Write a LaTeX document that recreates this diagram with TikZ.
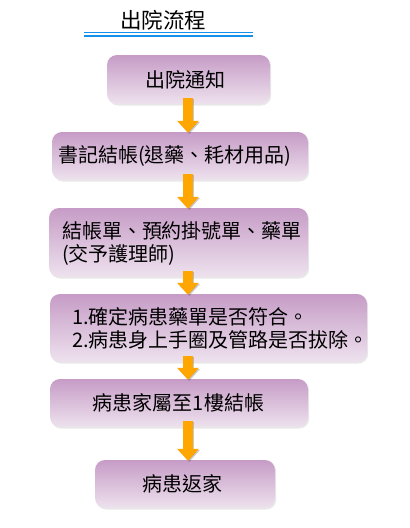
\documentclass[tikz,border=0pt]{standalone}
\usepackage{fontspec}
\newfontfamily\cjk{Noto Sans CJK TC}
\usetikzlibrary{arrows.meta,shadows}
\definecolor{boxtop}{RGB}{198,156,198}
\definecolor{boxbot}{RGB}{238,226,238}
\definecolor{arroworange}{RGB}{255,166,0}
\definecolor{titleblue}{RGB}{20,145,235}
\tikzset{
  flowbox/.style={rounded corners=10pt, top color=boxtop, bottom color=boxbot,
    draw=none, inner sep=0pt,
    drop shadow={shadow xshift=1.2pt, shadow yshift=-1.5pt, opacity=0.18}},
  flowtext/.style={inner sep=0pt, align=left, text=black,
    font=\cjk\fontsize{20}{23}\selectfont},
  flowarrow/.style={line width=10pt, draw=arroworange,
    -{Triangle[width=21pt,length=12pt]}, shorten <=-6pt, shorten >=-1pt},
  arrowshadow/.style={flowarrow, draw=black, opacity=0.2,
    transform canvas={xshift=1.2pt,yshift=-1.2pt}},
  titleline/.style={draw=titleblue, line width=1.1pt}
}
\begin{document}
\begin{tikzpicture}[x=1pt,y=-1pt]
\useasboundingbox[fill=white] (0,0) rectangle (410,528);

% title
\node[inner sep=0pt, font=\cjk\fontsize{21.5}{24}\selectfont] (title) at (163,20) {出院流程};
\draw[titleline] (84,32.5) -- (253,32.5);
\draw[titleline] (84,36) -- (253,36);

% boxes
\node[flowbox, minimum width=163pt, minimum height=49pt] (b1) at (188.5,79.5) {};
\node[flowbox, minimum width=256pt, minimum height=48pt] (b2) at (180,156) {};
\node[flowbox, minimum width=259pt, minimum height=69pt] (b3) at (178.5,242.5) {};
\node[flowbox, minimum width=317pt, minimum height=68pt] (b4) at (208.5,328) {};
\node[flowbox, minimum width=258pt, minimum height=48pt] (b5) at (179,403) {};
\node[flowbox, minimum width=180pt, minimum height=48pt] (b6) at (185,484) {};

% texts
\node[flowtext] (t1) at (185,79.5) {出院通知};
\node[flowtext, anchor=west] (t2) at ([xshift=6pt]b2.west) {書記結帳(退藥、耗材用品)};
\node[flowtext, anchor=west] (t3) at ([xshift=13pt,yshift=-1pt]b3.west) {結帳單、預約掛號單、藥單\\(交予護理師)};
\node[flowtext, anchor=west] (t4) at ([xshift=22pt]b4.west) {1.確定病患藥單是否符合。\\2.病患身上手圈及管路是否拔除。};
\node[flowtext] (t5) at (178.5,403) {病患家屬至1樓結帳};
\node[flowtext] (t6) at (182,484) {病患返家};

% arrows
\coordinate (ax) at (188,0);
\foreach \a/\b in {b1/b2,b2/b3,b3/b4,b4/b5,b5/b6}{
  \draw[arrowshadow] (\a.south -| ax) -- (\b.north -| ax);
  \draw[flowarrow] (\a.south -| ax) -- (\b.north -| ax);
}
\end{tikzpicture}
\end{document}
